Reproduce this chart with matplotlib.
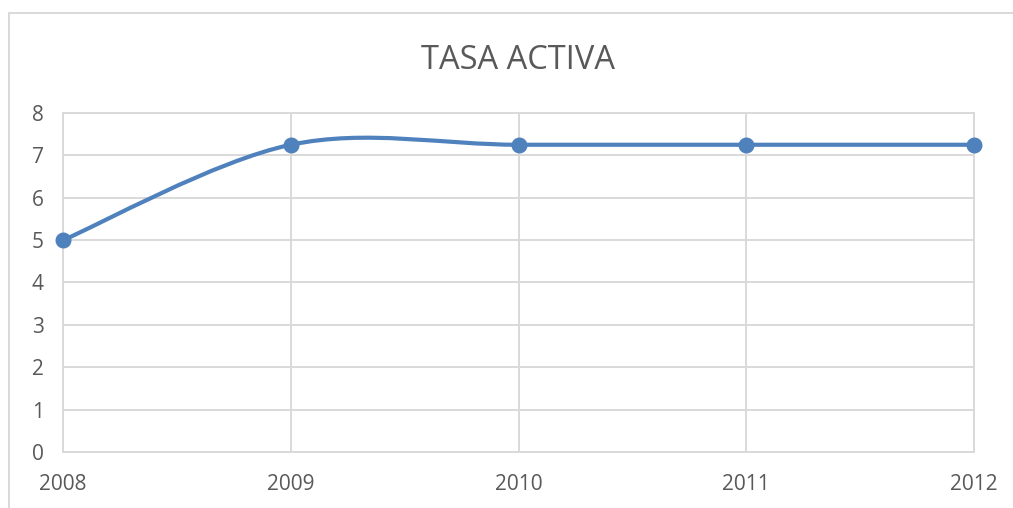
import matplotlib.pyplot as plt
from matplotlib.path import Path
from matplotlib.patches import PathPatch, Rectangle

# Datos
years = [2008, 2009, 2010, 2011, 2012]
tasa = [5, 7.25, 7.25, 7.25, 7.25]
y_ticks = [0, 1, 2, 3, 4, 5, 6, 7, 8]

line_color = "#4F81BD"
grid_color = "#D9D9D9"
text_color = "#595959"

plt.rcParams["font.family"] = ["Open Sans", "DejaVu Sans"]

fig = plt.figure(figsize=(10.13, 5.08), dpi=100)
ax = fig.add_axes([0.0622, 0.1102, 0.8993, 0.6674])

# Línea suavizada (Bezier tipo Catmull-Rom, como Excel)
pts = list(zip(years, tasa))
verts = [pts[0]]
codes = [Path.MOVETO]
for i in range(len(pts) - 1):
    p0 = pts[i - 1] if i > 0 else pts[i]
    p1 = pts[i]
    p2 = pts[i + 1]
    p3 = pts[i + 2] if i + 2 < len(pts) else pts[i + 1]
    c1 = (p1[0] + (p2[0] - p0[0]) / 6, p1[1] + (p2[1] - p0[1]) / 6)
    c2 = (p2[0] - (p3[0] - p1[0]) / 6, p2[1] - (p3[1] - p1[1]) / 6)
    verts += [c1, c2, p2]
    codes += [Path.CURVE4] * 3
ax.add_patch(PathPatch(Path(verts, codes), facecolor="none", edgecolor=line_color,
                       linewidth=3.0, capstyle="round", zorder=3))
ax.plot(years, tasa, linestyle="none", marker="o", markersize=10.5,
        color=line_color, zorder=4, clip_on=False)

ax.set_xlim(years[0], years[-1])
ax.set_ylim(0, 8)
ax.set_xticks(years)
ax.set_xticklabels([str(y) for y in years])
ax.set_yticks(y_ticks)
ax.grid(True, color=grid_color, linewidth=1.4)
ax.set_axisbelow(True)
for s in ax.spines.values():
    s.set_color(grid_color)
    s.set_linewidth(1.4)
ax.tick_params(axis="both", length=0, labelsize=15, labelcolor=text_color)
ax.tick_params(axis="x", pad=16)
ax.tick_params(axis="y", pad=14)

fig.text(0.511, 0.880, "TASA ACTIVA", ha="center", va="center",
         fontsize=23.5, color=text_color)

# Borde del área del gráfico
fig.patches.append(Rectangle((9 / 1013, -0.02), 1.02, 1 - 13 / 508 + 0.02,
                             transform=fig.transFigure, fill=False,
                             edgecolor=grid_color, linewidth=1.4))

fig.savefig("out.png", dpi=100)
